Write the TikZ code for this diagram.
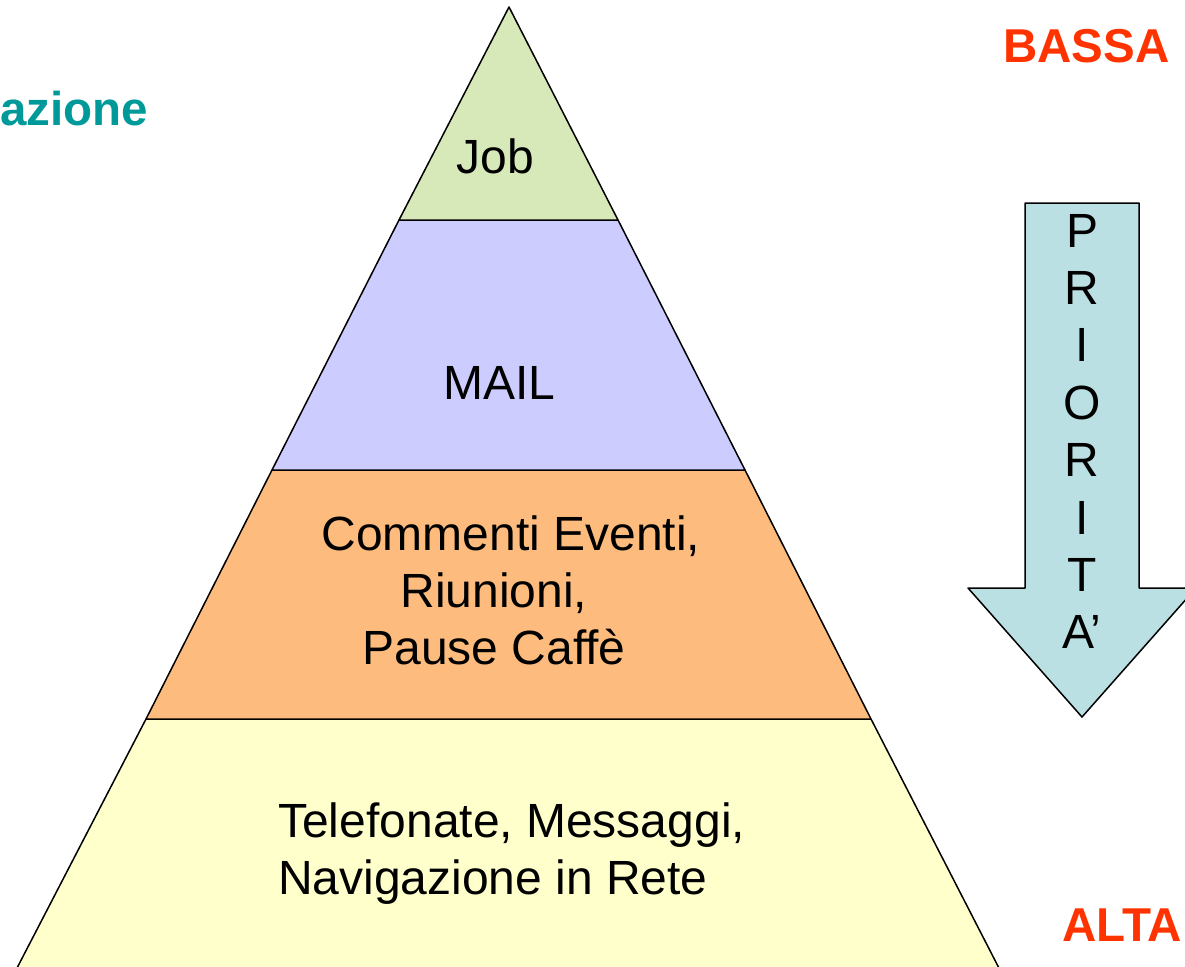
\documentclass[tikz,border=0pt]{standalone}
\usepackage{fontspec}
\setmainfont{Liberation Sans}
\definecolor{cjob}{RGB}{215,233,185}
\definecolor{cmail}{RGB}{204,204,255}
\definecolor{corange}{RGB}{253,188,126}
\definecolor{cyellow}{RGB}{255,255,204}
\definecolor{carrow}{RGB}{187,224,227}
\definecolor{cred}{RGB}{255,51,0}
\definecolor{cteal}{RGB}{0,153,153}
\begin{document}
\begin{tikzpicture}[x=1pt,y=-1pt,
  band/.style={draw=black,line width=1.5pt,line join=round},
  txt/.style={inner sep=0pt,font=\fontsize{48}{57.4}\selectfont,text=black},
  btxt/.style={inner sep=0pt,font=\fontsize{47.5}{55}\selectfont\bfseries}]
\useasboundingbox (0,0) rectangle (1185,966);
\clip (0,0) rectangle (1185,966);
% pyramid corners
\coordinate (ap) at (509,7);
\coordinate (l1) at (399,220); \coordinate (r1) at (618,220);
\coordinate (l2) at (272,470); \coordinate (r2) at (745,470);
\coordinate (l3) at (146,719); \coordinate (r3) at (871,719);
\coordinate (l4) at (10.8,980); \coordinate (r4) at (1005.1,980);
\fill[cyellow] (l3) -- (r3) -- (r4) -- (l4) -- cycle;
\draw[band] (l4) -- (l3) (r3) -- (r4);
\draw[band,fill=corange] (l2) -- (r2) -- (r3) -- (l3) -- cycle;
\draw[band,fill=cmail] (l1) -- (r1) -- (r2) -- (l2) -- cycle;
\draw[band,fill=cjob] (ap) -- (r1) -- (l1) -- cycle;
% arrow
\coordinate (a1) at (1025,203); \coordinate (a2) at (1139,203);
\coordinate (a3) at (1139,588); \coordinate (a4) at (1196,588);
\coordinate (a5) at (1082,717); \coordinate (a6) at (968,588);
\coordinate (a7) at (1025,588);
\draw[band,fill=carrow] (a1) -- (a2) -- (a3) -- (a4) -- (a5) -- (a6) -- (a7) -- cycle;
% texts
\node[txt,anchor=base] (job) at (495.5,173) {Job};
\node[txt,anchor=base] (mail) at (499.5,399) {MAIL};
\node[txt,anchor=base] (c1) at (511,550) {Commenti Eventi,};
\node[txt,anchor=base] (c2) at (494,607) {Riunioni,};
\node[txt,anchor=base] (c3) at (494,664) {Pause Caffè};
\node[txt,anchor=base west] (t1) at (278,837) {Telefonate, Messaggi,};
\node[txt,anchor=base west] (t2) at (278,894) {Navigazione in Rete};
\foreach \l [count=\i] in {P,R,I,O,R,I,T,A’}
  \node[txt,anchor=base] (pr\i) at (1082,{247+57.4*(\i-1)}) {\l};
\node[btxt,text=cred,anchor=base] (bassa) at (1086.5,63) {BASSA};
\node[btxt,text=cred,anchor=base] (alta) at (1122,941) {ALTA};
\node[btxt,text=cteal,anchor=base west] (az) at (0,125) {azione};
\end{tikzpicture}
\end{document}
